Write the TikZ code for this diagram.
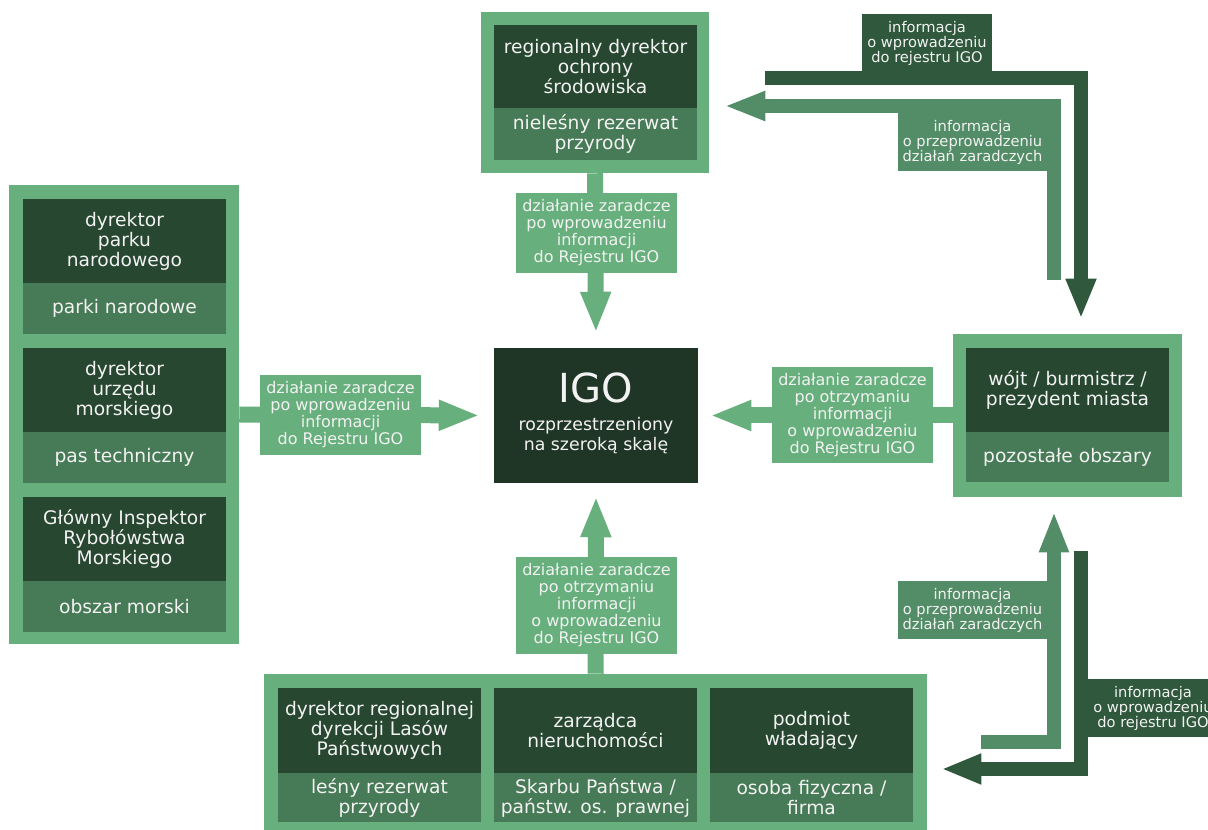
\documentclass[tikz,border=0pt]{standalone}
\usepackage{fontspec}
\setmainfont{DejaVu Sans}
\usetikzlibrary{arrows.meta,fit}
\definecolor{lightg}{HTML}{67AF7C}
\definecolor{darkg}{HTML}{274730}
\definecolor{midg}{HTML}{477A56}
\definecolor{igog}{HTML}{1F3526}
\definecolor{darkarr}{HTML}{2F583C}
\definecolor{medarr}{HTML}{538D67}
\definecolor{txt}{HTML}{F2F2F2}
\begin{document}
\begin{tikzpicture}[x=0.75pt,y=-0.75pt,
  frame/.style={fill=lightg, inner sep=0pt},
  dblk/.style={fill=darkg, inner sep=0pt},
  mblk/.style={fill=midg, inner sep=0pt},
  igobox/.style={fill=igog, inner sep=0pt},
  lab/.style={fill=lightg, inner sep=0pt},
  infod/.style={fill=darkarr, inner sep=0pt},
  infom/.style={fill=medarr, inner sep=0pt},
  btxt/.style={text=txt, align=center, font=\fontsize{14}{15}\selectfont},
  ltxt/.style={text=txt, align=center, font=\fontsize{12}{12.75}\selectfont},
  itxt/.style={text=txt, align=center, font=\fontsize{11}{11.25}\selectfont},
  bigarr/.style={draw=lightg, line width=12pt, -{Triangle[width=21pt,length=30.75pt]}},
  darr/.style={draw=darkarr, line width=10.5pt, -{Triangle[width=21pt,length=30pt]}},
  marr/.style={draw=medarr, line width=10.5pt, -{Triangle[width=20.25pt,length=30.75pt]}}
]
\useasboundingbox (0,0) rectangle (1208,830);

% top box
\node[frame, fit={(481,12)(709,173)}] (top) {};
\node[dblk, fit={(494,25)(697,108)}] (topd) {};
\node[btxt] at (topd.center) (topdt) {regionalny dyrektor\\ochrony\\środowiska};
\node[mblk, fit={(494,108)(697,160)}] (topm) {};
\node[btxt] at (topm.center) (topmt) {nieleśny rezerwat\\przyrody};

% left box
\node[frame, fit={(9,185)(239,644)}] (lb) {};
\node[dblk, fit={(23,199)(226,283)}] (lb1d) {};
\node[btxt] at (lb1d.center) (lb1dt) {dyrektor\\parku\\narodowego};
\node[mblk, fit={(23,283)(226,334)}] (lb1m) {};
\node[btxt] at (lb1m.center) (lb1mt) {parki narodowe};
\node[dblk, fit={(23,348)(226,432)}] (lb2d) {};
\node[btxt] at (lb2d.center) (lb2dt) {dyrektor\\urzędu\\morskiego};
\node[mblk, fit={(23,432)(226,483)}] (lb2m) {};
\node[btxt] at (lb2m.center) (lb2mt) {pas techniczny};
\node[dblk, fit={(23,497)(226,581)}] (lb3d) {};
\node[btxt] at (lb3d.center) (lb3dt) {Główny Inspektor\\Rybołówstwa\\Morskiego};
\node[mblk, fit={(23,581)(226,632)}] (lb3m) {};
\node[btxt] at (lb3m.center) (lb3mt) {obszar morski};

% IGO box
\node[igobox, fit={(494,348)(698,483)}] (igo) {};
\node[text=txt, font=\fontsize{30}{30}\selectfont] at (596,388) (igot) {IGO};
\node[text=txt, align=center, font=\fontsize{13}{15}\selectfont] at (596,436) (igos) {rozprzestrzeniony\\na szeroką skalę};

% right box
\node[frame, fit={(953,334)(1182,497)}] (rb) {};
\node[dblk, fit={(966,348)(1169,432)}] (rbd) {};
\node[btxt] at (rbd.center) (rbdt) {wójt / burmistrz /\\prezydent miasta};
\node[mblk, fit={(966,432)(1169,482)}] (rbm) {};
\node[btxt] at (rbm.center) (rbmt) {pozostałe obszary};

% bottom box
\node[frame, fit={(264,674)(927,830)}] (bb) {};
\node[dblk, fit={(278,688)(481,773)}] (bb1d) {};
\node[btxt] at (bb1d.center) (bb1dt) {dyrektor regionalnej\\dyrekcji Lasów\\Państwowych};
\node[mblk, fit={(278,773)(481,822)}] (bb1m) {};
\node[btxt] at (bb1m.center) (bb1mt) {leśny rezerwat\\przyrody};
\node[dblk, fit={(494,688)(697,773)}] (bb2d) {};
\node[btxt] at (bb2d.center) (bb2dt) {zarządca\\nieruchomości};
\node[mblk, fit={(494,773)(697,822)}] (bb2m) {};
\node[btxt] at (bb2m.center) (bb2mt) {Skarbu Państwa /\\państw. os. prawnej};
\node[dblk, fit={(710,688)(913,773)}] (bb3d) {};
\node[btxt] at (bb3d.center) (bb3dt) {podmiot\\władający};
\node[mblk, fit={(710,773)(913,822)}] (bb3m) {};
\node[btxt] at (bb3m.center) (bb3mt) {osoba fizyczna /\\firma};

% main arrows
\draw[bigarr, shorten >=11.25pt] (top.south) -- (igo.north);
\draw[bigarr, shorten >=10.5pt] (lb.east) -- (igo.west);
\draw[bigarr, shorten >=9pt] (rb.west) -- (igo.east);
\draw[bigarr, shorten >=9.75pt] (bb.north) -- (igo.south);

% elbow arrows
\coordinate (d1s) at (765,78.5);
\coordinate (m1s) at (1054,280);
\coordinate (m2s) at (981,742);
\coordinate (d2s) at (1081,551);
\draw[darr, shorten >=11.25pt] (d1s) -| ([xshift=10.125pt]rb.north);
\draw[marr, shorten >=11.25pt] (m1s) |- ([yshift=-10.125pt]top.east);
\draw[marr, shorten >=10.5pt] (m2s) -| ([xshift=-10.125pt]rb.south);
\draw[darr, shorten >=10.5pt] (d2s) |- ([yshift=-12.75pt]bb.east);

% labels on main arrows
\node[lab, fit={(516,193)(677,273)}] (l1) {};
\node[ltxt] at (l1.center) (l1t) {działanie zaradcze\\po wprowadzeniu\\informacji\\do Rejestru IGO};
\node[lab, fit={(260,375)(421,455)}] (l2) {};
\node[ltxt] at (l2.center) (l2t) {działanie zaradcze\\po wprowadzeniu\\informacji\\do Rejestru IGO};
\node[lab, fit={(772,367)(933,463)}] (l3) {};
\node[ltxt] at (l3.center) (l3t) {działanie zaradcze\\po otrzymaniu\\informacji\\o wprowadzeniu\\do Rejestru IGO};
\node[lab, fit={(516,557)(677,654)}] (l4) {};
\node[ltxt] at (l4.center) (l4t) {działanie zaradcze\\po otrzymaniu\\informacji\\o wprowadzeniu\\do Rejestru IGO};

% info labels
\node[infod, fit={(862,14)(992,72)}] (i1) {};
\node[itxt] at (i1.center) (i1t) {informacja\\o wprowadzeniu\\do rejestru IGO};
\node[infom, fit={(898,113)(1047,171)}] (i2) {};
\node[itxt] at (i2.center) (i2t) {informacja\\o przeprowadzeniu\\działań zaradczych};
\node[infom, fit={(898,581)(1047,639)}] (i3) {};
\node[itxt] at (i3.center) (i3t) {informacja\\o przeprowadzeniu\\działań zaradczych};
\node[infod, fit={(1088,679)(1218,737)}] (i4) {};
\node[itxt] at (i4.center) (i4t) {informacja\\o wprowadzeniu\\do rejestru IGO};
\end{tikzpicture}
\end{document}
